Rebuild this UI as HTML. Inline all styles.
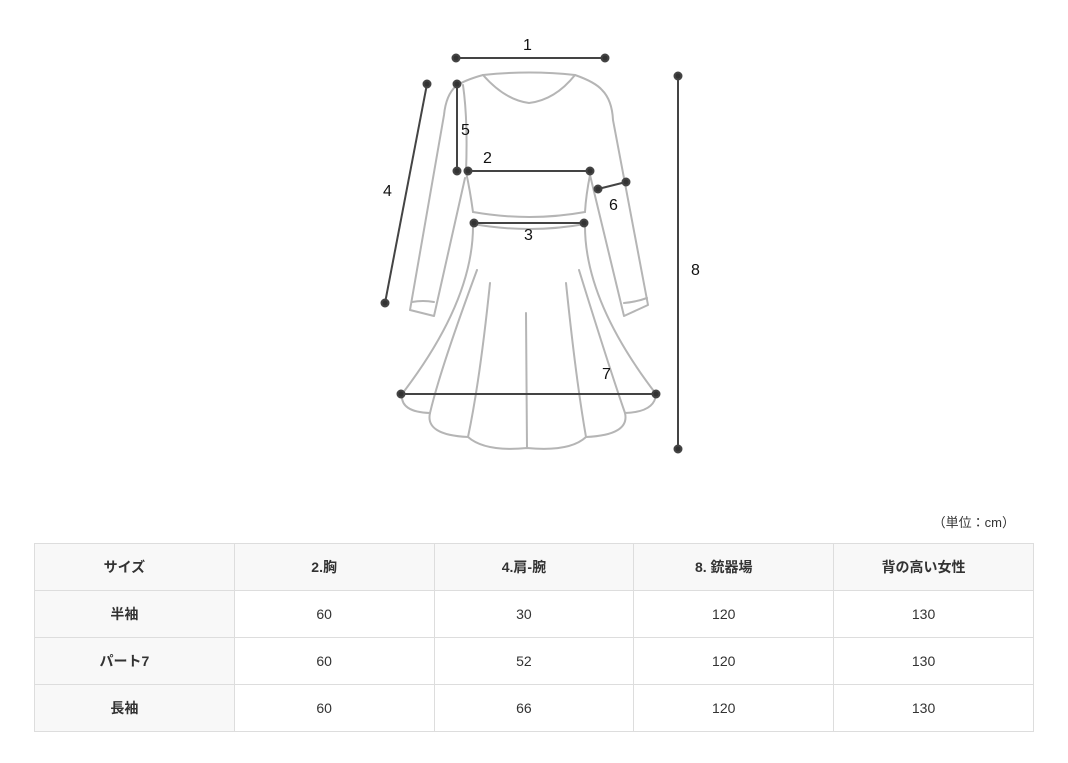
<!DOCTYPE html>
<html><head><meta charset="utf-8"><style>
body{margin:0;background:#fff;width:1068px;height:763px;position:relative;font-family:"Liberation Sans","Noto Sans CJK JP",sans-serif;overflow:hidden}
svg{position:absolute;left:0;top:0}
.unit{position:absolute;right:53px;top:512px;font-size:13px;color:#333}
table{position:absolute;left:34px;top:543px;border-collapse:collapse;width:1000px;font-size:14px;color:#333}
td{border:1px solid #ddd;height:46px;text-align:center;width:180px;padding:0 20px 0 0}
tr:first-child td,td:first-child{background:#f8f8f8;font-weight:bold}
</style></head><body>
<svg width="1068" height="500" viewBox="0 0 1068 500">
<g fill="none" stroke="#b5b5b5" stroke-width="2" stroke-linejoin="round" stroke-linecap="round">
<path d="M483,75 Q505,100 529,103 Q555,100 575,75"/>
<path d="M483,75 Q530,70 575,75"/>
<path d="M483,75 Q465,80 456,86 Q446,95 444,115 L410,310 L434,316 L465,178"/>
<path d="M575,75 Q595,82 602,90 Q612,100 613,120 L648,305 L624,316 L590,175"/>
<path d="M412,302 Q423,300 434,302"/><path d="M624,303 Q636,302 647,298"/>
<path d="M463,85 Q468,120 466,172 Q470,190 473,212 M590,175 Q586,195 585,212"/>
<path d="M473,212 Q530,222 585,212"/>
<path d="M473,224 Q530,234 585,224"/>
<path d="M473,224 Q474,300 402,394 M585,224 Q584,300 656,394"/>
<path d="M402,394 Q400,412 430,413 Q425,435 468,437 Q485,452 527,448 Q570,452 586,437 Q630,435 625,413 Q655,412 656,394"/>
<path d="M477,270 Q440,370 430,413 M490,283 Q480,380 468,437 M526,313 L527,448 M566,283 Q576,380 586,437 M579,270 Q610,370 625,413"/>
</g>
<g stroke="#444" stroke-width="2" fill="#333">
<line x1="456" y1="58" x2="605" y2="58"/><circle cx="456" cy="58" r="3.5"/><circle cx="605" cy="58" r="3.5"/>
<line x1="427" y1="84" x2="385" y2="303"/><circle cx="427" cy="84" r="3.5"/><circle cx="385" cy="303" r="3.5"/>
<line x1="457" y1="84" x2="457" y2="171"/><circle cx="457" cy="84" r="3.5"/><circle cx="457" cy="171" r="3.5"/>
<line x1="468" y1="171" x2="590" y2="171"/><circle cx="468" cy="171" r="3.5"/><circle cx="590" cy="171" r="3.5"/>
<line x1="598" y1="189" x2="626" y2="182"/><circle cx="598" cy="189" r="3.5"/><circle cx="626" cy="182" r="3.5"/>
<line x1="474" y1="223" x2="584" y2="223"/><circle cx="474" cy="223" r="3.5"/><circle cx="584" cy="223" r="3.5"/>
<line x1="401" y1="394" x2="656" y2="394"/><circle cx="401" cy="394" r="3.5"/><circle cx="656" cy="394" r="3.5"/>
<line x1="678" y1="76" x2="678" y2="449"/><circle cx="678" cy="76" r="3.5"/><circle cx="678" cy="449" r="3.5"/>
</g>
<g font-size="16" fill="#111" font-family="Liberation Sans,sans-serif">
<text x="523" y="50">1</text><text x="483" y="163">2</text><text x="524" y="240">3</text>
<text x="383" y="196">4</text><text x="461" y="135">5</text><text x="609" y="210">6</text>
<text x="602" y="379">7</text><text x="691" y="275">8</text>
</g>
</svg>
<div class="unit">（単位：cm）</div>
<table>
<tr><td>サイズ</td><td>2.胸</td><td>4.肩-腕</td><td>8. 銃器場</td><td>背の高い女性</td></tr>
<tr><td>半袖</td><td>60</td><td>30</td><td>120</td><td>130</td></tr>
<tr><td>パート7</td><td>60</td><td>52</td><td>120</td><td>130</td></tr>
<tr><td>長袖</td><td>60</td><td>66</td><td>120</td><td>130</td></tr>
</table>
</body></html>
